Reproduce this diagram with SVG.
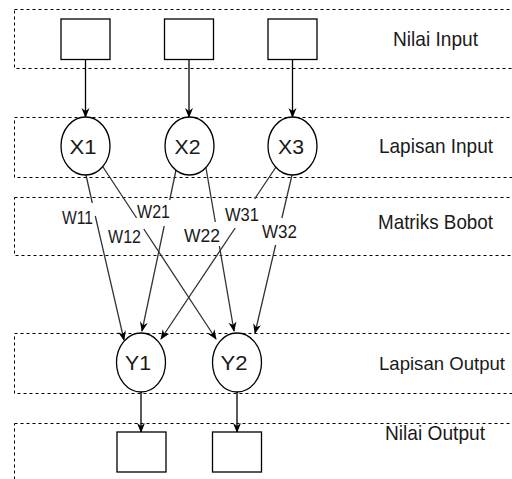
<svg xmlns="http://www.w3.org/2000/svg" width="512" height="479" viewBox="0 0 512 479">
<style>
.band{fill:none;stroke:#000;stroke-width:1;stroke-dasharray:3 3}
.node{fill:#fff;stroke:#000;stroke-width:1.3}
.t{font-family:"Liberation Sans",Arial,sans-serif;fill:#1a1a1a}
.lbl{font-size:21px}
.nl{font-size:21px;text-anchor:middle}
.w{font-size:19px}
.v{stroke:#000;stroke-width:1.3;fill:none;marker-end:url(#arr)}
.d{stroke:#333;stroke-width:1.3;fill:none;marker-end:url(#arr)}
</style>
<defs>
<marker id="arr" viewBox="0 0 10 10" refX="9" refY="5" markerWidth="10" markerHeight="10" markerUnits="userSpaceOnUse" orient="auto">
<path d="M0,1 L10,5 L0,9 L3,5 z" fill="#000"/>
</marker>
</defs>
<rect width="512" height="479" fill="#fff"/>
<g id="bands">
<rect class="band" x="14.5" y="9.5" width="510" height="59"/>
<rect class="band" x="14.5" y="117.5" width="510" height="60"/>
<rect class="band" x="14.5" y="197.5" width="510" height="58"/>
<rect class="band" x="14.5" y="333.5" width="510" height="60"/>
<rect class="band" x="14.5" y="423.5" width="510" height="70"/>
</g>
<g id="band-labels">
<text class="t lbl" x="393" y="46" textLength="85" lengthAdjust="spacingAndGlyphs">Nilai Input</text>
<text class="t lbl" x="379" y="153" textLength="114" lengthAdjust="spacingAndGlyphs">Lapisan Input</text>
<text class="t lbl" x="378" y="229" textLength="115" lengthAdjust="spacingAndGlyphs">Matriks Bobot</text>
<text class="t" x="379" y="370" font-size="19" textLength="126" lengthAdjust="spacingAndGlyphs">Lapisan Output</text>
<text class="t lbl" x="385" y="440" textLength="100" lengthAdjust="spacingAndGlyphs">Nilai Output</text>
</g>
<g id="connectors">
<path class="v" d="M85.5,60 L85.5,117"/>
<path class="v" d="M189,60 L189,117"/>
<path class="v" d="M292.5,60 L292.5,117"/>
<path class="v" d="M141,392 L141,432"/>
<path class="v" d="M237,392 L237,432"/>
<path class="d" d="M86,175 L92.3,203 M95.3,216 L124,340"/>
<path class="d" d="M103,167 L136.6,218 M143.8,229 L216,339"/>
<path class="d" d="M176,170 L169.7,200 M164.2,226 L142,331"/>
<path class="d" d="M206,168 L215.3,222 M219.4,246 L234,331"/>
<path class="d" d="M276,167 L254.6,199 M235.2,228 L161,339"/>
<path class="d" d="M292,175 L281.9,218 M275.6,245 L255,333"/>
</g>
<g id="weight-labels">
<text class="t w" x="62" y="224" textLength="31" lengthAdjust="spacingAndGlyphs">W11</text>
<text class="t w" x="137" y="218" textLength="33" lengthAdjust="spacingAndGlyphs">W21</text>
<text class="t w" x="108" y="243" textLength="33" lengthAdjust="spacingAndGlyphs">W12</text>
<text class="t w" x="184" y="242" textLength="36" lengthAdjust="spacingAndGlyphs">W22</text>
<text class="t w" x="225" y="221" textLength="34" lengthAdjust="spacingAndGlyphs">W31</text>
<text class="t w" x="262" y="238" textLength="35" lengthAdjust="spacingAndGlyphs">W32</text>
</g>
<g id="in1"><rect class="node" x="61" y="19" width="49" height="40.5"/></g>
<g id="in2"><rect class="node" x="164.5" y="19" width="49" height="40.5"/></g>
<g id="in3"><rect class="node" x="268" y="19" width="49" height="40.5"/></g>
<g id="x1"><ellipse class="node" cx="85.5" cy="146" rx="24.5" ry="29"/><text class="t nl" x="83" y="154" textLength="27" lengthAdjust="spacingAndGlyphs">X1</text></g>
<g id="x2"><ellipse class="node" cx="189.5" cy="146" rx="24.5" ry="29"/><text class="t nl" x="187.5" y="154" textLength="26" lengthAdjust="spacingAndGlyphs">X2</text></g>
<g id="x3"><ellipse class="node" cx="292.5" cy="146" rx="24.5" ry="29"/><text class="t nl" x="291" y="154" textLength="26" lengthAdjust="spacingAndGlyphs">X3</text></g>
<g id="y1"><ellipse class="node" cx="141" cy="362.5" rx="24.5" ry="29.5"/><text class="t nl" x="138" y="370" textLength="26" lengthAdjust="spacingAndGlyphs">Y1</text></g>
<g id="y2"><ellipse class="node" cx="237" cy="362.5" rx="24.5" ry="29.5"/><text class="t nl" x="234" y="370" textLength="27" lengthAdjust="spacingAndGlyphs">Y2</text></g>
<g id="out1"><rect class="node" x="117" y="432" width="49" height="40"/></g>
<g id="out2"><rect class="node" x="212.5" y="432" width="49" height="40"/></g>
</svg>
